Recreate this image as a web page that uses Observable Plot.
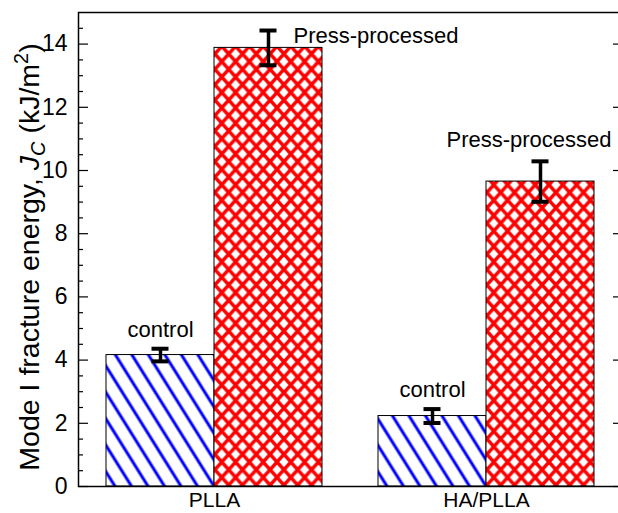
<!DOCTYPE html>
<html><head><meta charset="utf-8">
<script src="https://cdn.jsdelivr.net/npm/d3@7"></script>
<script src="https://cdn.jsdelivr.net/npm/@observablehq/plot@0.6"></script>
<style>html,body{margin:0;padding:0;background:#fff;overflow:hidden}</style>
</head><body><div id="chart"></div>
<script>
const groups = ["PLLA", "HA/PLLA"];
const treatments = ["control", "Press-processed"];
const controlValues = [4.16, 2.23];
const controlErrors = [0.20, 0.22];
const pressValues = [13.88, 9.65];
const pressErrors = [0.55, 0.64];
const yTicks = [0, 2, 4, 6, 8, 10, 12, 14];
const yMinorTicks = [0.5, 1, 1.5, 2.5, 3, 3.5, 4.5, 5, 5.5, 6.5, 7, 7.5, 8.5, 9, 9.5, 10.5, 11, 11.5, 12.5, 13, 13.5, 14.5];
const yDomain = [0, 15];

const rows = groups.flatMap((g, i) => [
  {group: g, treatment: treatments[0], value: controlValues[i], error: controlErrors[i]},
  {group: g, treatment: treatments[1], value: pressValues[i], error: pressErrors[i]}
]);
rows.forEach(d => { d.lo = d.value - d.error; d.hi = d.value + d.error; });

const font = "'Liberation Sans', Arial, Helvetica, sans-serif";
const common = {fx: "group", x: "treatment"};

const chart = Plot.plot({
  width: 618, height: 513,
  marginLeft: 77, marginRight: -4, marginTop: 12, marginBottom: 27,
  style: {fontFamily: font, background: "#fff", color: "#000"},
  fx: {domain: groups, padding: 0, label: null},
  x: {domain: treatments, paddingInner: 0, paddingOuter: 0.25, axis: null},
  y: {domain: yDomain, axis: null},
  color: {domain: treatments, range: ["url(#hatchDiag)", "url(#hatchCross)"]},
  marks: [
    Plot.barY(rows, {...common, y: "value", fill: "treatment", stroke: "#000", strokeWidth: 1}),
    Plot.ruleX(rows, {...common, y1: "lo", y2: "hi", stroke: "#000", strokeWidth: 3.5}),
    Plot.tickY(rows, {...common, y: "lo", stroke: "#000", strokeWidth: 4, inset: 45.5}),
    Plot.tickY(rows, {...common, y: "hi", stroke: "#000", strokeWidth: 4, inset: 45.5}),
    Plot.text(rows.filter(d => d.treatment === treatments[0]), {...common, y: "hi", text: "treatment", dy: -19, fontSize: 22}),
    Plot.text(rows.filter(d => d.treatment === treatments[1] && d.group === groups[1]), {...common, y: "hi", text: "treatment", dy: -21, dx: -11.5, fontSize: 22}),
    Plot.text(rows.filter(d => d.treatment === treatments[1] && d.group === groups[0]), {...common, y: "hi", text: "treatment", dy: 5, dx: 25, textAnchor: "start", fontSize: 22}),
    Plot.axisY(yTicks, {anchor: "left", tickSize: -10, tickPadding: 21, fontSize: 23, label: null, stroke: "#000", strokeWidth: 1.2}),
    Plot.axisY(yMinorTicks, {anchor: "left", tickSize: -5, tickFormat: () => "", label: null, stroke: "#000", strokeWidth: 1.2}),
    Plot.axisY(yTicks, {anchor: "right", tickSize: -10, tickFormat: () => "", label: null, stroke: "#000", strokeWidth: 1.2}),
    Plot.axisY(yMinorTicks, {anchor: "right", tickSize: -5, tickFormat: () => "", label: null, stroke: "#000", strokeWidth: 1.2}),
    Plot.axisFx({anchor: "bottom", tickSize: 0, tickPadding: 6, fontSize: 21, label: null}),
    Plot.frame({facet: "super", stroke: "#000", strokeWidth: 1.5})
  ]
});
document.getElementById("chart").appendChild(chart);

// hatch patterns
const svg = d3.select(chart.tagName.toLowerCase() === "svg" ? chart : chart.querySelector("svg"));
const defs = svg.insert("defs", ":first-child");
const diag = defs.append("pattern").attr("id", "hatchDiag").attr("patternUnits", "userSpaceOnUse")
  .attr("width", 14).attr("height", 14).attr("patternTransform", "rotate(-32)");
diag.append("rect").attr("width", 14).attr("height", 14).attr("fill", "#fff");
diag.append("line").attr("x1", 7).attr("y1", -2).attr("x2", 7).attr("y2", 16)
  .attr("stroke", "#0000ff").attr("stroke-width", 3);
const w = 13.8, h = 15.4;
const cross = defs.append("pattern").attr("id", "hatchCross").attr("patternUnits", "userSpaceOnUse")
  .attr("width", w).attr("height", h);
cross.append("rect").attr("width", w).attr("height", h).attr("fill", "#fff");
const p = [];
for (const s of [-w, 0, w]) {
  p.push(`M${-w + s},${-h}L${2 * w + s},${2 * h}`);
  p.push(`M${2 * w + s},${-h}L${-w + s},${2 * h}`);
}
cross.append("path").attr("d", p.join("")).attr("stroke", "#ff0000").attr("stroke-width", 3.4).attr("fill", "none");

// y-axis title with italic subscript and superscript
const fs = 28.5;
const t = svg.append("text")
  .attr("transform", `translate(39,257) rotate(-90)`)
  .attr("text-anchor", "middle").attr("font-size", fs).attr("font-family", font).attr("fill", "#000");
t.append("tspan").text("Mode I fracture energy, ");
t.append("tspan").attr("font-style", "italic").text("J");
t.append("tspan").attr("font-style", "italic").attr("font-size", fs * 0.7).attr("dy", fs * 0.22).text("C");
t.append("tspan").attr("dy", -fs * 0.22).text(" (kJ/m");
t.append("tspan").attr("font-size", fs * 0.7).attr("dy", -fs * 0.38).text("2");
t.append("tspan").attr("dy", fs * 0.38).text(")");
</script></body></html>
